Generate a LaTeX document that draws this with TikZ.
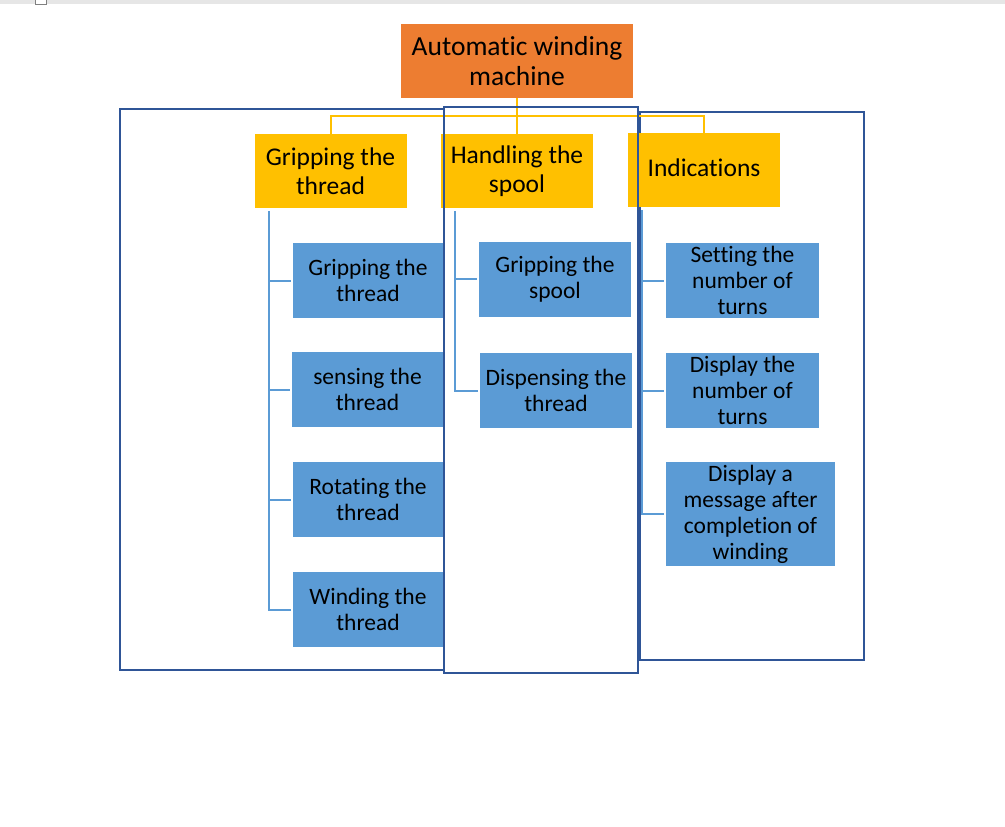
\documentclass[tikz,border=0pt]{standalone}
\usepackage{fontspec}
\setmainfont{Carlito}[Ligatures=NoCommon]
\definecolor{orangebox}{HTML}{ED7D31}
\definecolor{yellowbox}{HTML}{FFC000}
\definecolor{bluebox}{HTML}{5B9BD5}
\definecolor{frameblue}{HTML}{2F5597}
\definecolor{topgrey}{HTML}{E6E6E6}
\begin{document}
\begin{tikzpicture}[x=1pt,y=-1pt,
  topbox/.style={fill=orangebox,minimum width=232pt,minimum height=74pt,inner sep=0pt,align=center,font=\fontsize{27.5}{30}\selectfont},
  midbox/.style={fill=yellowbox,minimum width=152pt,minimum height=74pt,inner sep=0pt,align=center,font=\fontsize{25.5}{29}\selectfont},
  leafbox/.style={fill=bluebox,minimum height=75pt,inner sep=0pt,align=center,font=\fontsize{23.5}{26}\selectfont},
  yline/.style={draw=yellowbox,line width=2pt},
  bline/.style={draw=bluebox,line width=2pt},
  frame/.style={draw=frameblue,line width=2pt}]
\useasboundingbox (0,0) rectangle (1005,827);
\fill[topgrey] (0,0) rectangle (1005,4);
\draw[gray,fill=white,line width=1pt] (35,-1) rectangle (46,4);
% title
\node[topbox] (top) at (517,61) {Automatic winding\\machine};
% frames
\draw[frame] (120,109) rectangle (444,670);
\draw[frame] (640,112) rectangle (864,660);
% yellow boxes
\node[midbox] (m1) at (330.5,171) {Gripping the\\thread};
\node[midbox] (m2) at (517,171) {Handling the\\spool};
\node[midbox,text depth=4pt] (m3) at (704,170) {Indications};
% yellow connectors
\coordinate (ty) at (517,116);
\draw[yline] (top.south) -- (ty);
\draw[yline] (ty) -| (m1.north);
\draw[yline] (ty) -- (m2.north);
\draw[yline] (ty) -| ([yshift=-4pt]m3.north);
% blue leaf boxes column 1
\node[leafbox,minimum width=150pt] (a1) at (368,280.5) {Gripping the\\thread};
\node[leafbox,minimum width=151pt] (a2) at (367.5,389.5) {sensing the\\thread};
\node[leafbox,minimum width=150pt] (a3) at (368,499.5) {Rotating the\\thread};
\node[leafbox,minimum width=150pt] (a4) at (368,609.5) {Winding the\\thread};
% column 2
\node[leafbox,minimum width=152pt] (b1) at (555,279) {Gripping the\\spool};
\node[leafbox,minimum width=152pt] (b2) at (556,390.5) {Dispensing the\\thread};
% column 3
\node[leafbox,minimum width=153pt] (c1) at (742.5,280.5) {Setting the\\number of\\turns};
\node[leafbox,minimum width=153pt] (c2) at (742.5,390.5) {Display the\\number of\\turns};
\node[leafbox,minimum width=169pt,minimum height=104pt] (c3) at (750.5,514) {Display a\\message after\\completion of\\winding};
% middle frame on top
\draw[frame] (444,107) rectangle (638,673);
% blue connectors
\coordinate (s1) at (269,211);
\coordinate (s2) at (455,211);
\coordinate (s3) at (642,210);
\draw[bline] (s1) |- ([xshift=-2pt]a4.west);
\foreach \n in {a1,a2,a3} \draw[bline] (s1 |- \n.west) -- ([xshift=-2pt]\n.west);
\draw[bline] (s2) |- ([xshift=-2pt]b2.west);
\draw[bline] (s2 |- b1.west) -- ([xshift=-2pt]b1.west);
\draw[bline] (s3) |- ([xshift=-2pt]c3.west);
\foreach \n in {c1,c2} \draw[bline] (s3 |- \n.west) -- ([xshift=-2pt]\n.west);
\end{tikzpicture}
\end{document}
